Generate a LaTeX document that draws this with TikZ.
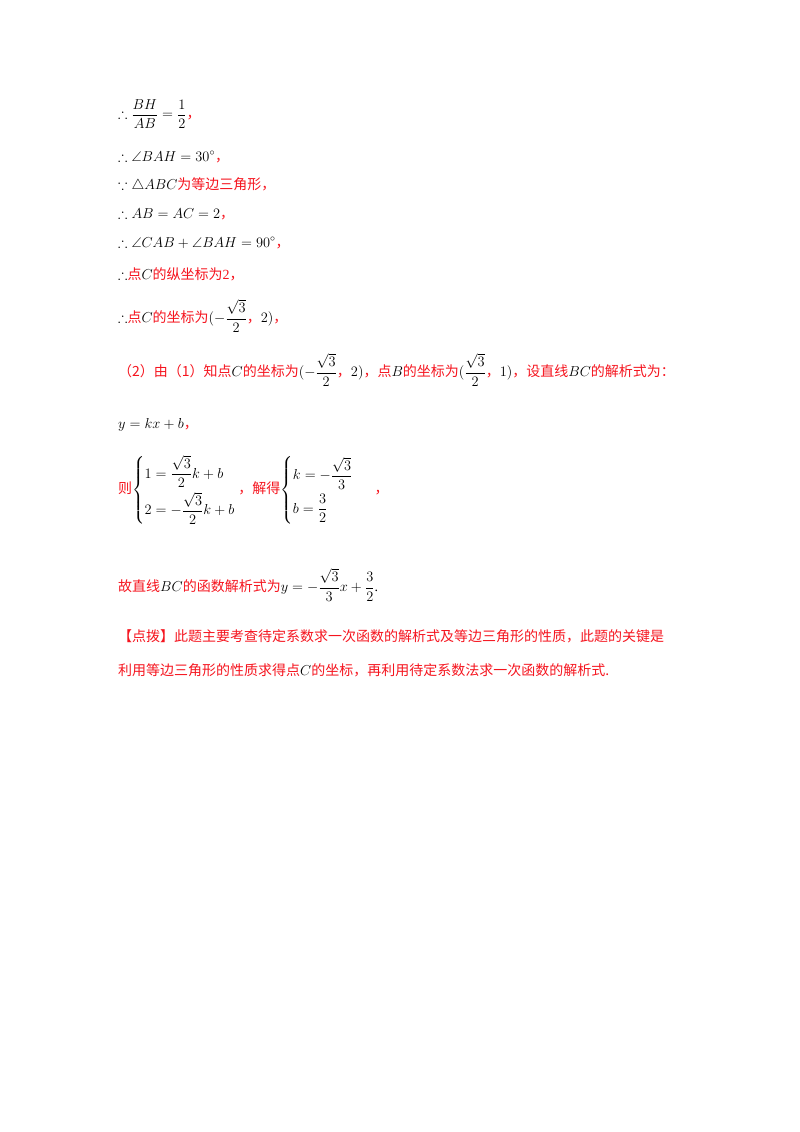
\documentclass[tikz,border=0pt]{standalone}
\usepackage{amsmath,amssymb}
\usepackage{fontspec}
\setmainfont{Liberation Serif}
\newfontfamily\cjk{Noto Sans CJK SC}
\definecolor{hred}{RGB}{245,20,30}
\begin{document}
\begin{tikzpicture}[x=1pt,y=-1pt,
  ln/.style={anchor=west,inner sep=0pt,font=\fontsize{14}{17}\selectfont}]
\useasboundingbox (0,0) rectangle (800,1132);
\newcommand{\R}[1]{\textcolor{hred}{\cjk #1}}
\node[ln] (l1) at (118,114) {$\therefore\dfrac{BH}{AB}=\dfrac{1}{2}$\R{，}};
\node[ln] (l2) at (118,157) {$\therefore\angle BAH=30^\circ$\R{，}};
\node[ln] (l3) at (118,185) {$\because\triangle ABC$\R{为等边三角形，}};
\node[ln] (l4) at (118,214) {$\therefore AB=AC=2$\R{，}};
\node[ln] (l5) at (118,243) {$\therefore\angle CAB+\angle BAH=90^\circ$\R{，}};
\node[ln] (l6) at (118,274) {$\therefore$\R{点}$C$\R{的纵坐标为}\textcolor{hred}{2}\R{，}};
\node[ln] (l7) at (118,316) {$\therefore$\R{点}$C$\R{的坐标为}$(-\dfrac{\sqrt3}{2}$\R{，}$2)$\R{，}};
\node[ln] (l8) at (118,370) {\R{（2）由（1）知点}$C$\R{的坐标为}$(-\dfrac{\sqrt3}{2}$\R{，}$2)$\R{，点}$B$\R{的坐标为}$(\dfrac{\sqrt3}{2}$\R{，}$1)$\R{，设直线}$BC$\R{的解析式为：}};
\node[ln] (l9) at (118,425) {$y=kx+b$\R{，}};
\node[ln] (l10) at (118,490) {\R{则}$\begin{cases}1=\dfrac{\sqrt3}{2}k+b\\[8pt] 2=-\dfrac{\sqrt3}{2}k+b\end{cases}$\hspace{-0.8em}\R{，解得}$\begin{cases}k=-\dfrac{\sqrt3}{3}\\[8pt] b=\dfrac{3}{2}\end{cases}$\hspace{0.5em}\R{，}};
\node[ln] (l11) at (118,585) {\R{故直线}$BC$\R{的函数解析式为}$y=-\dfrac{\sqrt3}{3}x+\dfrac{3}{2}$.};
\node[ln] (l12) at (118,636) {\R{【点拨】此题主要考查待定系数求一次函数的解析式及等边三角形的性质，此题的关键是}};
\node[ln] (l13) at (118,670) {\R{利用等边三角形的性质求得点}$C$\R{的坐标，再利用待定系数法求一次函数的解析式.}};
\end{tikzpicture}
\end{document}
